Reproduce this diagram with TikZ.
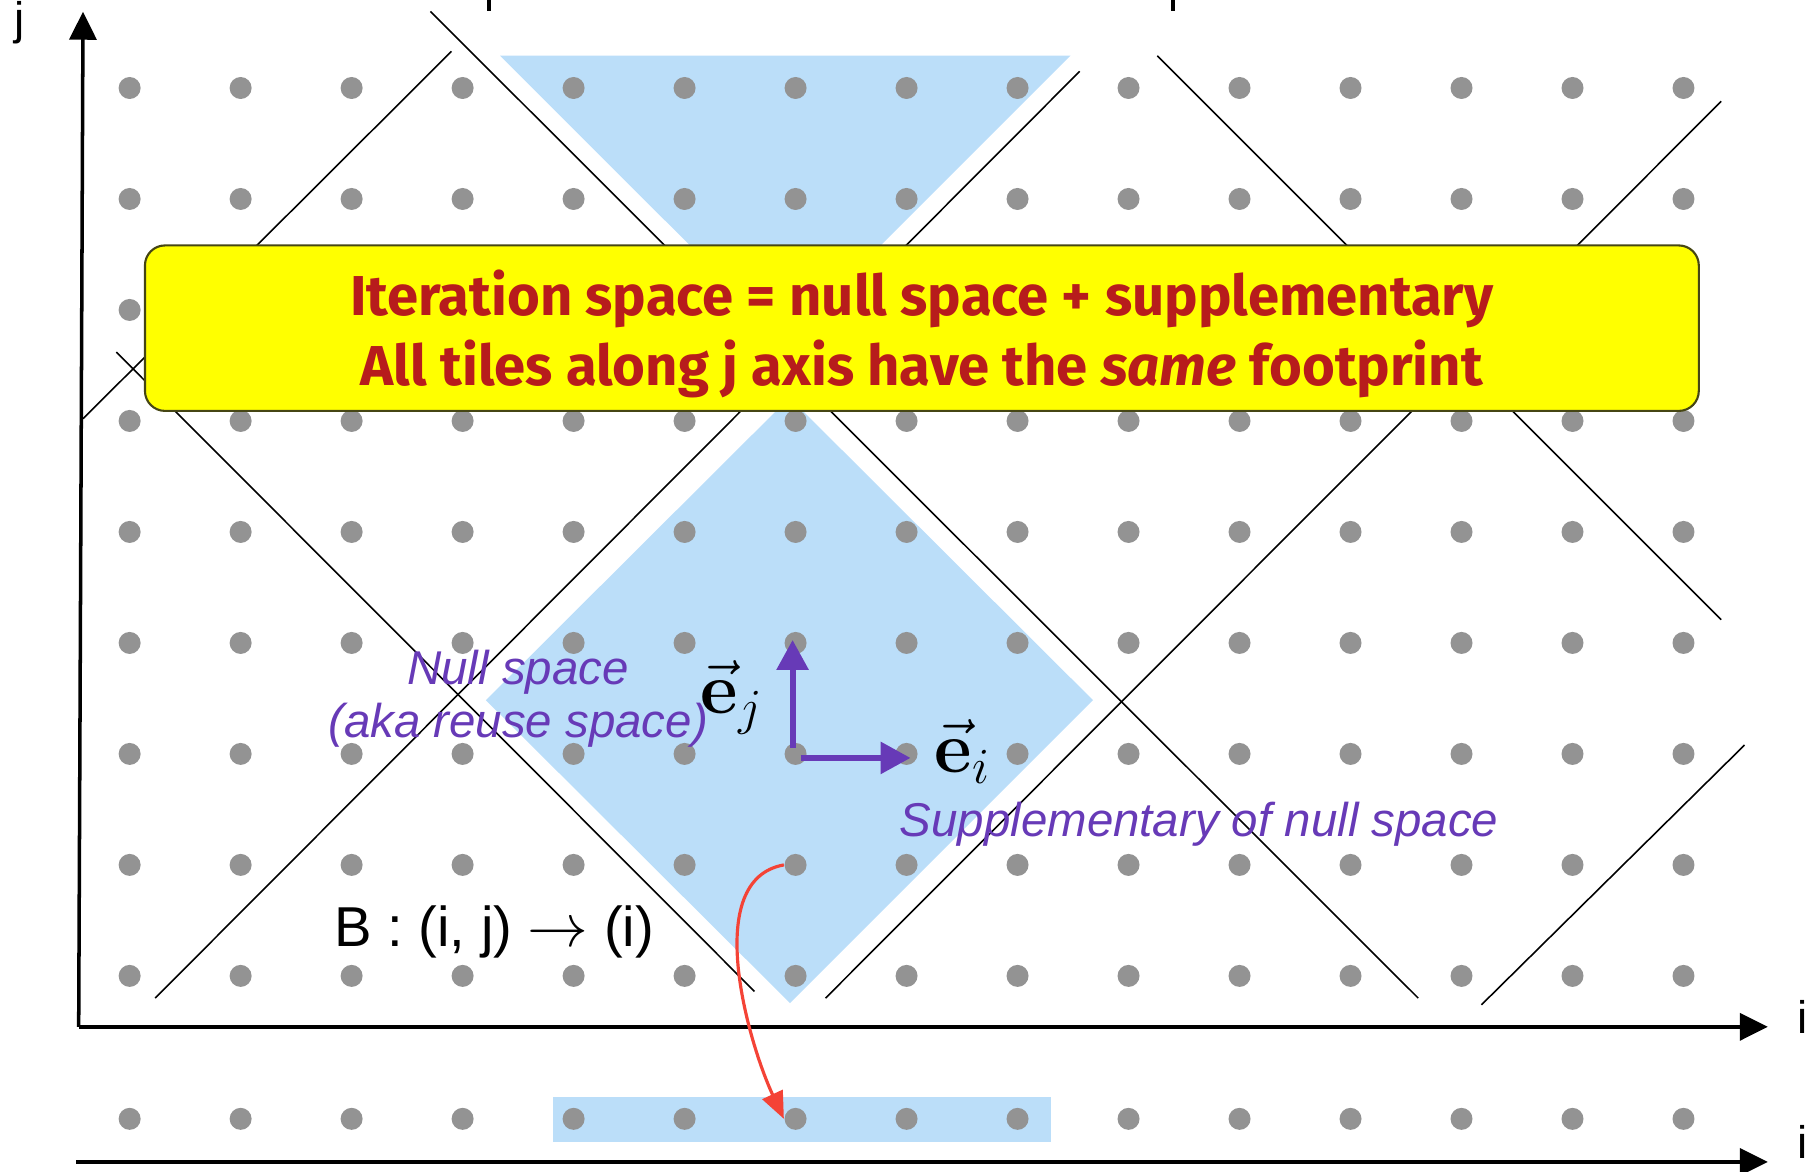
\documentclass[tikz,border=0pt]{standalone}
\usepackage[no-math]{fontspec}
\setmainfont{Liberation Sans}
\newfontfamily\bannerfont{Fira Sans}
\usepackage{amsmath}
\definecolor{tileblue}{RGB}{187,222,249}
\definecolor{dotgray}{RGB}{147,147,147}
\definecolor{nullpurple}{RGB}{103,58,183}
\definecolor{mapred}{RGB}{244,67,54}
\definecolor{bannerred}{RGB}{183,28,28}
\definecolor{banneryellow}{RGB}{255,255,0}
\definecolor{bannerline}{RGB}{70,70,20}
\usetikzlibrary{arrows.meta,positioning}

\begin{document}
\begin{tikzpicture}[x=1.11cm, y=1.11cm,
  dot/.style={circle, fill=dotgray, inner sep=0pt, minimum size=0.22cm},
  tile/.style={fill=tileblue, draw=none},
  cut/.style={draw=black, line width=0.45pt},
  axis/.style={-{Triangle[length=0.28cm,width=0.27cm]}, line width=1pt},
  basis/.style={-{Triangle[length=0.3cm,width=0.31cm]}, line width=1.7pt, draw=nullpurple},
  proj/.style={-{Triangle[length=0.27cm,width=0.22cm]}, line width=0.9pt, draw=mapred},
  banner/.style={
    rectangle, rounded corners=0.2cm,
    draw=bannerline, line width=0.6pt,
    fill=banneryellow,
    minimum width=15.54cm, minimum height=1.655cm
  },
  bannertext/.style={
    align=center, text=bannerred,
    font=\bannerfont\bfseries\fontsize{16}{19.9}\selectfont
  },
  note/.style={font=\itshape\fontsize{13.5}{15.1}\selectfont, text=nullpurple, align=center},
  vecl/.style={font=\fontsize{21}{25}\selectfont, inner sep=0pt},
  axlabel/.style={font=\fontsize{13}{15}\selectfont, inner sep=0pt}
]
\useasboundingbox (-1.168,-1.766) rectangle (15.185,8.793);

% Tiles (null space footprint)
\fill[tile] (3.337,8.292) -- (8.478,8.292) -- (5.908,5.722) -- cycle;
\fill[tile] (3.21,2.484) -- (5.945,5.21) -- (8.68,2.484) -- (5.95,-0.245) -- cycle;
\fill[tile] (3.814,-1.09) rectangle (8.305,-1.495);

% Tiling lines
\draw[cut] (2.71,8.69) -- (11.61,-0.20);
\draw[cut] (9.26,8.29) -- (14.34,3.21);
\draw[cut] (-0.12,5.62) -- (5.63,-0.14);
\draw[cut] (-0.42,5.02) -- (2.90,8.33);
\draw[cut] (0.23,-0.20) -- (8.56,8.15);
\draw[cut] (6.27,-0.20) -- (14.34,7.88);
\draw[cut] (12.18,-0.26) -- (14.55,2.08);

% Iteration points
\foreach \i in {0,...,14}{
  \foreach \j in {0,...,8}{
    \node[dot] (d\i-\j) at (\i,\j) {};
  }
  \node[dot] (b\i) at (\i,-1.288) {};
}

% Axes
\coordinate (o) at (-0.459,-0.459);
\coordinate (jtip) at (-0.42,8.687);
\coordinate (itip) at (14.76,-0.459);
\coordinate (o2) at (-0.483,-1.676);
\coordinate (itip2) at (14.76,-1.676);
\draw[axis] (o) -- (jtip);
\draw[axis] (o) -- (itip);
\draw[axis] (o2) -- (itip2);
\node[axlabel] (jlab) at (-0.99,8.584) {j};
\node[axlabel] (ilab) at (15.076,-0.369) {i};
\node[axlabel] (ilab2) at (15.076,-1.495) {i};

% clipped title strokes
\draw[line width=1pt] (3.24,8.793) -- (3.24,8.69);
\draw[line width=1pt] (9.40,8.793) -- (9.40,8.69);

% Banner
\node[banner] (banner) at (7.138,5.836) {};
\node[bannertext] (bannertext) at ([yshift=-0.06cm]banner.center) {
  Iteration space = null space + supplementary\\
  All tiles along j axis have the \textit{same} footprint
};

% Labels
\node[note] (nulllab) at (3.5,2.495) {Null space\\(aka reuse space)};
\node[note] (supplab) at (9.636,1.365) {Supplementary of null space};
\node[font=\fontsize{16}{19}\selectfont] (maplab) at (3.285,0.398) {B : (i, j) $\rightarrow$ (i)};
\node[vecl] (ej) at (5.427,2.505) {$\vec{\mathbf{e}}_j$};
\node[vecl] (ei) at (7.508,2.018) {$\vec{\mathbf{e}}_i$};

% Basis vectors
\draw[basis] ([xshift=-0.03cm, yshift=0.06cm]d6-2.center) -- ([xshift=-0.03cm, yshift=0.03cm]d6-3.center);
\draw[basis] ([xshift=0.05cm, yshift=-0.04cm]d6-2.center) -- ([xshift=0.04cm, yshift=-0.04cm]d7-2.center);

% Projection
\draw[proj] (d6-1.west) to[out=190, in=115, looseness=0.85] (b6.west);
\end{tikzpicture}
\end{document}
